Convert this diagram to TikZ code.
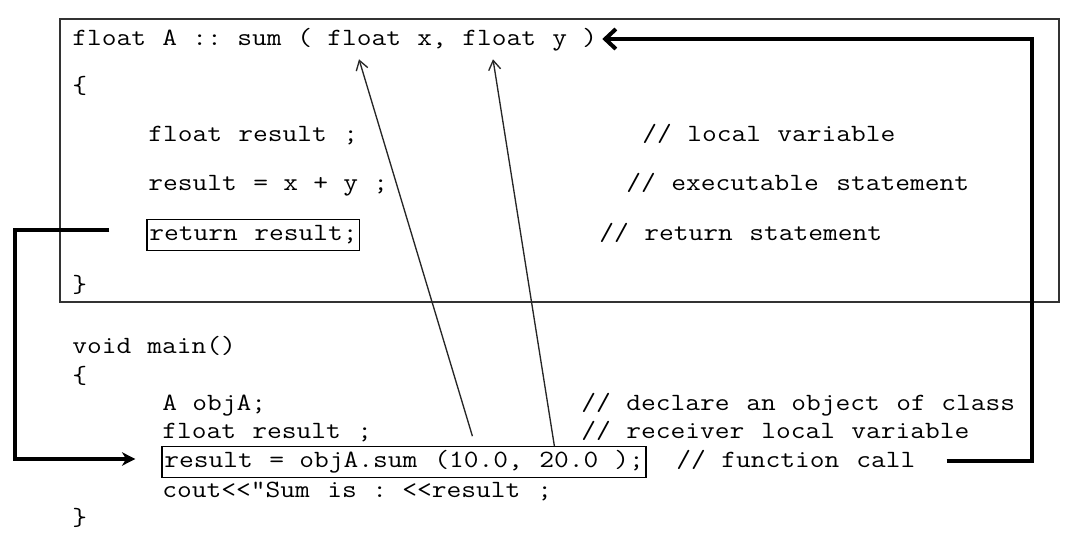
\documentclass[tikz,border=0pt]{standalone}
\usepackage{fontspec}
\newfontfamily\codefont[FakeStretch=1.155]{Latin Modern Mono}
\usetikzlibrary{arrows.meta,calc,fit}
\begin{document}
\begin{tikzpicture}[x=0.75pt,y=-0.75pt,
  code/.style={anchor=base west, inner sep=0pt, text height=15.75pt, text depth=6.75pt,
    font=\codefont\fontsize{18.6}{22}\selectfont, text=black},
  boxed/.style={draw=black, line width=0.9pt, inner xsep=1.5pt, inner ysep=0pt},
  frame/.style={draw=black!80, line width=1.1pt},
  thinarrow/.style={draw=black!85, line width=1pt, -{Straight Barb[length=7pt,width=9pt]}},
  thickline/.style={draw=black, line width=3pt, line join=miter}
]
\useasboundingbox (0,0) rectangle (1075,541);
\fill[white] (0,0) rectangle (1075,541);

% function definition frame
\draw[frame] (60,19) rectangle (1059,302);

% float A :: sum ( float x, float y )
\node[code] (s1)  at (72,46)  {float};
\node[code] (s2)  at (162,46) {A};
\node[code] (s3)  at (192,46) {::};
\node[code] (s4)  at (237,46) {sum};
\node[code] (s5)  at (297,46) {(};
\node[code] (s6)  at (327,46) {float};
\node[code] (s7)  at (417,46) {x,};
\node[code] (s8)  at (462,46) {float};
\node[code] (s9)  at (552,46) {y};
\node[code] (s10) at (582,46) {)};

\node[code] (ob1) at (72,94) {\{};

\node[code] (fa1) at (148,142) {float};
\node[code] (fa2) at (238,142) {result};
\node[code] (fa3) at (343,142) {;};

\node[code] (ex1) at (148,191) {result};
\node[code] (ex2) at (253,191) {=};
\node[code] (ex3) at (283,191) {x};
\node[code] (ex4) at (313,191) {+};
\node[code] (ex5) at (343,191) {y};
\node[code] (ex6) at (373,191) {;};

\node[code] (rt1) at (149,241) {return};
\node[code] (rt2) at (254,241) {result;};
\node[boxed, fit=(rt1)(rt2)] (ret) {};

\node[code] (cb1) at (72,293) {\}};

\node[code] (ca1) at (642,142) {//};
\node[code] (ca2) at (687,142) {local};
\node[code] (ca3) at (777,142) {variable};

\node[code] (cb1a) at (626,191) {//};
\node[code] (cb1b) at (671,191) {executable};
\node[code] (cb1c) at (836,191) {statement};

\node[code] (cc1) at (599,241) {//};
\node[code] (cc2) at (644,241) {return};
\node[code] (cc3) at (749,241) {statement};

% main
\node[code] (m1) at (72,354)  {void};
\node[code] (m2) at (147,354) {main()};
\node[code] (ob2) at (72,384) {\{};

\node[code] (d1) at (162,411) {A};
\node[code] (d2) at (192,411) {objA;};

\node[code] (f1) at (162,439) {float};
\node[code] (f2) at (252,439) {result};
\node[code] (f3) at (357,439) {;};

\node[code] (k1) at (164,468) {result};
\node[code] (k2) at (269,468) {=};
\node[code] (k3) at (299,468) {objA.sum};
\node[code] (k4) at (434,468) {(10.0,};
\node[code] (k5) at (539,468) {20.0};
\node[code] (k6) at (614,468) {);};
\node[boxed, fit=(k1)(k6)] (call) {};

\node[code] (o1) at (162,498) {cout<<"Sum};
\node[code] (o2) at (327,498) {is};
\node[code] (o3) at (372,498) {:};
\node[code] (o4) at (402,498) {<<result};
\node[code] (o5) at (537,498) {;};

\node[code] (cb2) at (72,526) {\}};

\node[code] (cd1) at (581,411) {//};
\node[code] (cd2) at (626,411) {declare};
\node[code] (cd3) at (746,411) {an};
\node[code] (cd4) at (791,411) {object};
\node[code] (cd5) at (896,411) {of};
\node[code] (cd6) at (941,411) {class};

\node[code] (ce1) at (581,439) {//};
\node[code] (ce2) at (626,439) {receiver};
\node[code] (ce3) at (761,439) {local};
\node[code] (ce4) at (851,439) {variable};

\node[code] (cf1) at (676,468) {//};
\node[code] (cf2) at (721,468) {function};
\node[code] (cf3) at (856,468) {call};

% parameter arrows
\draw[thinarrow] ($(call.north west)+(311,-10)$) -- ($(s6.south west)+(32,4)$);
\draw[thinarrow] ($(call.north west)+(393,0)$) -- ($(s8.south west)+(31,4)$);

% return path
\draw[thickline, -{Stealth[length=10pt,width=10pt,inset=3pt]}]
  ($(ret.west)+(-37,-5)$) -- ++(-94,0) |- ($(call.west)+(-26,-3)$);

% call path
\draw[thickline, -{Straight Barb[length=8pt,width=15pt]}]
  ($(cf3.east)+(31,-1)$) -- ++(85,0) |- ($(s10.east)+(5,-1)$);
\end{tikzpicture}
\end{document}
